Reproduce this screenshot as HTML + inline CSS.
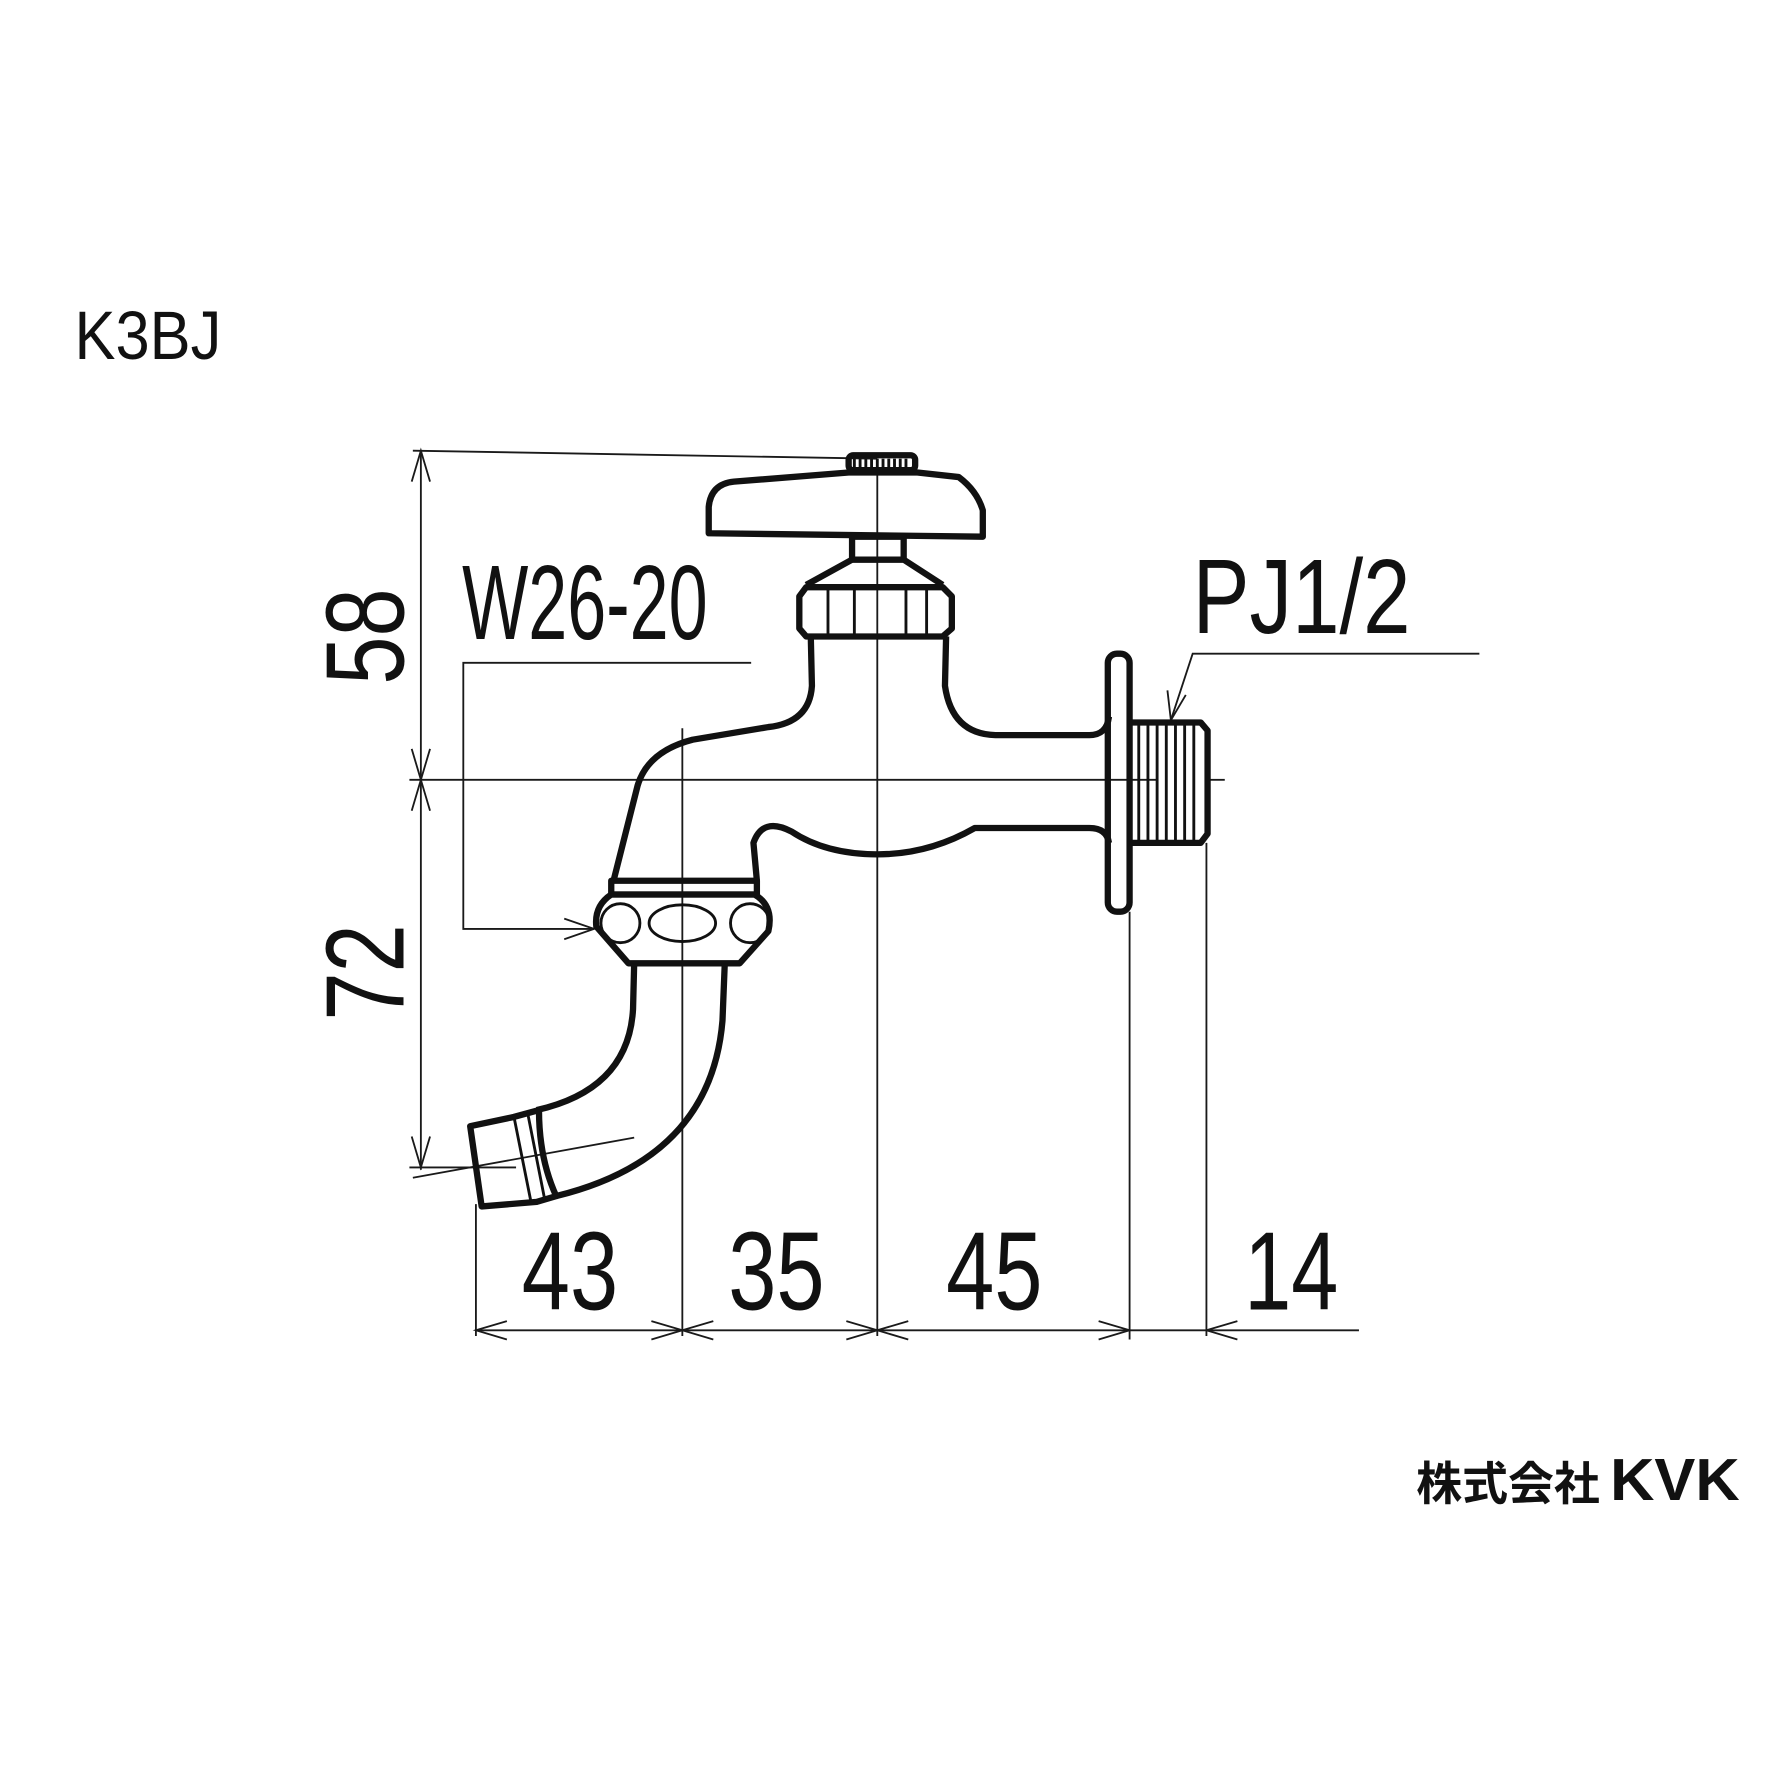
<!DOCTYPE html>
<html><head><meta charset="utf-8"><style>html,body{margin:0;padding:0;background:#fff}svg{display:block}</style></head>
<body>
<svg width="1789" height="1789" viewBox="0 0 1560 1560" xmlns="http://www.w3.org/2000/svg">
<g fill="none" stroke="#1a1a1a" stroke-width="1.6">
<line x1="367" y1="393" x2="367" y2="1020"/>
<line x1="360" y1="393" x2="765" y2="400"/>
<line x1="357" y1="680" x2="1010" y2="680"/>
<line x1="1055" y1="680" x2="1068" y2="680"/>
<line x1="357" y1="1018" x2="450" y2="1018"/>
<line x1="360" y1="1027" x2="553" y2="992"/>
<path d="M359 420 L367 393 L375 420 M359 653 L367 680 L375 653 M359 707 L367 680 L375 707 M359 991 L367 1018 L375 991"/>
<line x1="415" y1="1050" x2="415" y2="1165"/>
<line x1="595" y1="635" x2="595" y2="1165"/>
<line x1="765" y1="410" x2="765" y2="1165"/>
<line x1="985" y1="795" x2="985" y2="1168"/>
<line x1="1052" y1="735" x2="1052" y2="1165"/>
<line x1="415" y1="1160" x2="1185" y2="1160"/>
<path d="M442 1152 L415 1160 L442 1168 M568 1152 L595 1160 L568 1168 M622 1152 L595 1160 L622 1168 M738 1152 L765 1160 L738 1168 M792 1152 L765 1160 L792 1168 M958 1152 L985 1160 L958 1168 M1079 1152 L1052 1160 L1079 1168"/>
<polyline points="655,578 404,578 404,810 518,810"/>
<path d="M492 801 L518 810 L492 819"/>
<polyline points="1290,570 1040,570 1021,628"/>
<path d="M1018 602 L1021 628 L1034 606"/>
</g>
<g fill="none" stroke="#111" stroke-width="5.5" stroke-linejoin="round">
<rect x="740" y="397" width="58" height="13" rx="4"/>
<path d="M618 465 L618 442 Q620 422 640 420 L740 412 L800 412 L836 416 Q852 428 857 445 L857 468 Z"/>
<rect x="743" y="468" width="45" height="20"/>
<path d="M743 488 L788 488 L822 510 M743 488 L703 510"/>
<path d="M703 512 L822 512 L830 520 L830 548 L822 555 L703 555 L697 548 L697 520 Z"/>
<path d="M707 555 L708 598 Q706 630 670 634 L604 645 Q565 655 556 685 L535 768"/>
<path d="M825 555 L824 598 Q830 640 868 641 L950 641 Q965 641 967 625"/>
<path d="M967 735 Q965 722 950 722 L850 722 Q810 745 765 745 Q720 745 690 725 Q665 712 657 735 L660 768"/>
<rect x="533" y="768" width="127" height="12"/>
<path d="M533 780 Q518 790 520 808 L548 840 L645 840 L670 812 Q675 790 658 780 Z"/>
<path d="M553 840 L552 880 Q548 950 468 968"/>
<path d="M632 840 L630 890 Q620 1010 485 1043"/>
<path d="M410 982 L448 974 L470 968 Q470 1010 485 1043 L468 1048 L420 1052 Z"/>
<rect x="966" y="570" width="19" height="225" rx="8"/>
<path d="M985 630 L1047 630 L1053 637 L1053 727 L1047 735 L985 735"/>
</g>
<g fill="none" stroke="#111" stroke-width="2.5">
<circle cx="541" cy="805" r="17"/>
<circle cx="654" cy="805" r="17"/>
<ellipse cx="595" cy="805" rx="29" ry="16"/>
<path d="M722 514 L722 553 M745 514 L745 553 M790 514 L790 553 M808 514 L808 553"/>
<path d="M993 632 V733 M1001 632 V733 M1009 632 V733 M1017 632 V733 M1025 632 V733 M1033 632 V733 M1041 632 V733"/>
<path d="M745 400 V408 M750 400 V408 M755 400 V408 M760 400 V408 M765 400 V408 M770 400 V408 M775 400 V408 M780 400 V408 M785 400 V408 M790 400 V408"/>
<path d="M448 973 L463 1048 M460 970 L475 1046"/>
</g>
<g font-family="'Liberation Sans', sans-serif" fill="#111">
<text x="65" y="313" font-size="60" textLength="128" lengthAdjust="spacingAndGlyphs">K3BJ</text>
<text x="403" y="557" font-size="92" textLength="214" lengthAdjust="spacingAndGlyphs">W26-20</text>
<text x="1040" y="552" font-size="92" textLength="190" lengthAdjust="spacingAndGlyphs">PJ1/2</text>
<text x="455" y="1142" font-size="97" textLength="84" lengthAdjust="spacingAndGlyphs">43</text>
<text x="635" y="1142" font-size="97" textLength="84" lengthAdjust="spacingAndGlyphs">35</text>
<text x="825" y="1142" font-size="97" textLength="84" lengthAdjust="spacingAndGlyphs">45</text>
<text x="1085" y="1142" font-size="97" textLength="82" lengthAdjust="spacingAndGlyphs">14</text>
<text transform="translate(352,597) rotate(-90)" font-size="97" textLength="84" lengthAdjust="spacingAndGlyphs">58</text>
<text transform="translate(352,890) rotate(-90)" font-size="97" textLength="84" lengthAdjust="spacingAndGlyphs">72</text>
<text x="1235" y="1308" font-size="40" font-family="'Noto Sans CJK JP', sans-serif" font-weight="bold" textLength="160" lengthAdjust="spacingAndGlyphs">株式会社</text>
<text x="1404" y="1308" font-size="52" font-weight="bold" textLength="113" lengthAdjust="spacingAndGlyphs">KVK</text>
</g>
</svg>
</body></html>
